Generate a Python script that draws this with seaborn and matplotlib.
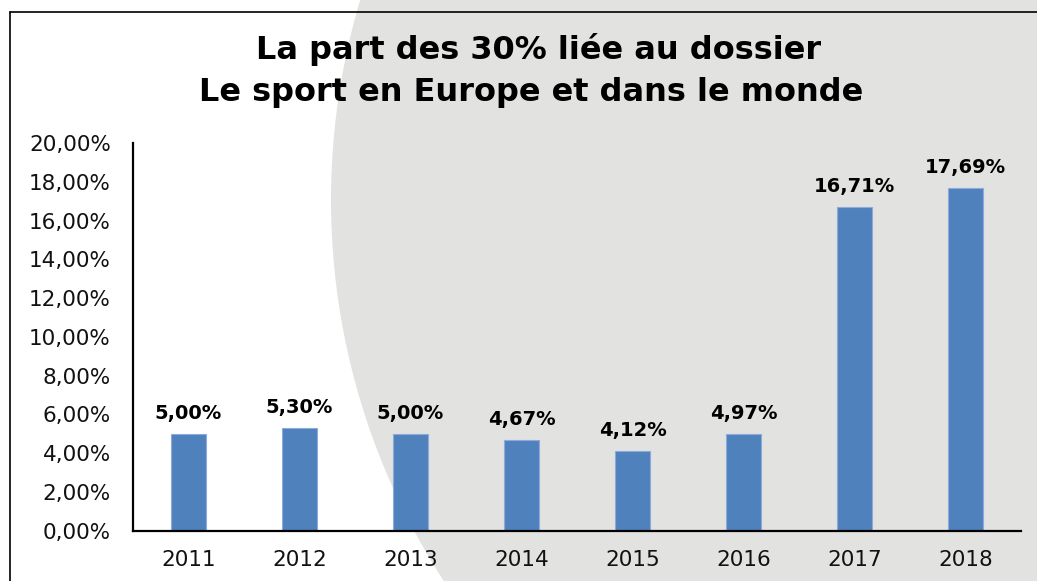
import numpy as np
import pandas as pd
import matplotlib.pyplot as plt
import seaborn as sns
from matplotlib.patches import Ellipse
from matplotlib.lines import Line2D

# Données du graphique
annees = ['2011', '2012', '2013', '2014', '2015', '2016', '2017', '2018']
parts = [5.00, 5.30, 5.00, 4.67, 4.12, 4.97, 16.71, 17.69]
titre_1 = 'La part des 30% liée au dossier'
titre_2 = 'Le sport en Europe et dans le monde'

df = pd.DataFrame({'annee': annees, 'part': parts})

sns.set_style('white')
plt.rcParams['font.family'] = ['DejaVu Sans']
plt.rcParams['text.color'] = 'black'

fig = plt.figure(figsize=(10.37, 5.81), dpi=100)
fig.patch.set_facecolor('white')

# Cercle gris en fond
fond = Ellipse((1031 / 1037, 381 / 581), 1400 / 1037, 1400 / 581,
               transform=fig.transFigure, facecolor='#e2e2e1', edgecolor='none', zorder=0)
fig.add_artist(fond)

# Cadre
fig.add_artist(Line2D([10 / 1037, 10 / 1037], [-0.01, 569 / 581], transform=fig.transFigure,
                      color='black', linewidth=1.2, zorder=1))
fig.add_artist(Line2D([10 / 1037, 1.01], [569 / 581, 569 / 581], transform=fig.transFigure,
                      color='black', linewidth=1.2, zorder=1))

ax = fig.add_axes([133 / 1037, 50.3 / 581, 888 / 1037, 387.7 / 581])
ax.set_facecolor('none')

sns.barplot(data=df, x='annee', y='part', color='#4f81bd', saturation=1,
            width=0.315, edgecolor='#8eaadb', linewidth=0.8, ax=ax)

etiquettes = [f'{v:.2f}%'.replace('.', ',') for v in parts]
ax.bar_label(ax.containers[0], labels=etiquettes, padding=8,
             fontsize=14, fontweight='bold', color='black')

ax.set_ylim(0, 20)
ax.set_xlim(-0.5, 7.5)
ax.set_yticks(np.arange(0, 21, 2))
ax.set_yticklabels([f'{v:.2f}%'.replace('.', ',') for v in np.arange(0, 21, 2)])
ax.set_xlabel('')
ax.set_ylabel('')
ax.tick_params(axis='both', length=0, labelsize=15.5, labelcolor='#111111')
ax.tick_params(axis='y', pad=16)
ax.tick_params(axis='x', pad=14)

sns.despine(ax=ax)
for s in ['left', 'bottom']:
    ax.spines[s].set_linewidth(1.6)
    ax.spines[s].set_color('black')

fig.text(539 / 1037, 531 / 581, titre_1, ha='center', va='center',
         fontsize=23, fontweight='bold', color='black')
fig.text(531 / 1037, 489 / 581, titre_2, ha='center', va='center',
         fontsize=23, fontweight='bold', color='black')

fig.savefig('out.png', dpi=100)
